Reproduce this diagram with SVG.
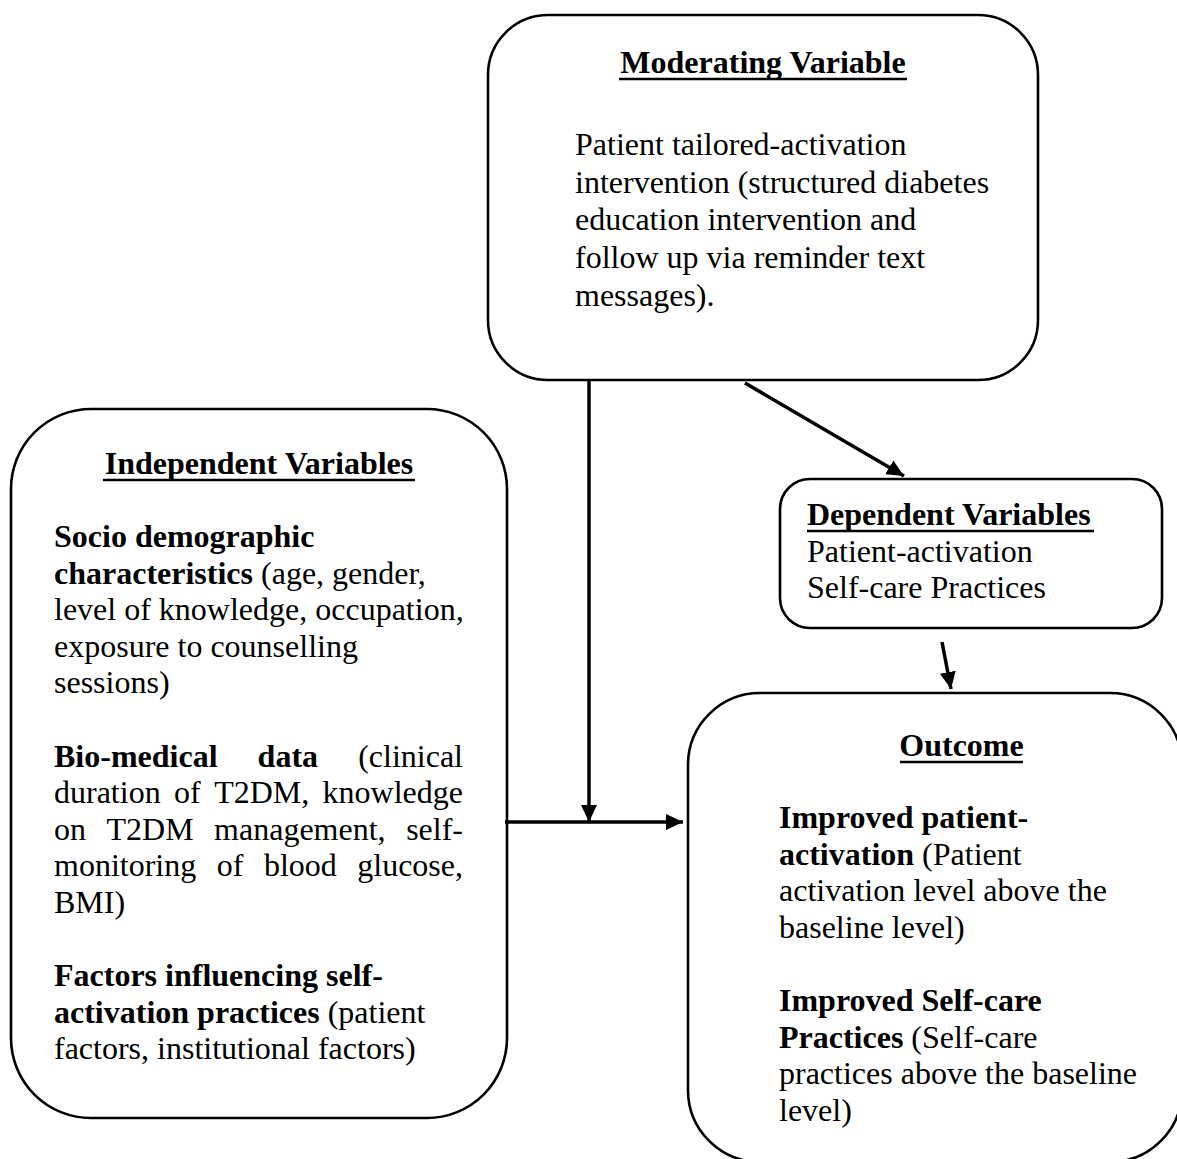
<svg xmlns="http://www.w3.org/2000/svg" width="1177" height="1159" viewBox="0 0 1177 1159">
  <style>
    .box { fill: #fff; stroke: #000; stroke-width: 2.6; }
    .t { font-family: "Liberation Serif", "Times New Roman", serif; font-size: 32px; fill: #000; }
    .b { font-weight: bold; }
    .u { stroke: #000; stroke-width: 2.6; }
    .conn { stroke: #000; stroke-width: 3.5; fill: none; }
  </style>
  <defs>
    <marker id="arrow" markerUnits="userSpaceOnUse" markerWidth="18" markerHeight="18" viewBox="0 0 18 18" refX="17" refY="9" orient="auto">
      <path d="M0,1 L17,9 L0,17 Z" fill="#000"/>
    </marker>
  </defs>

  <rect width="1177" height="1159" fill="#fff"/>

  <!-- Moderating variable -->
  <g id="moderating">
    <rect class="box" x="488" y="15" width="550" height="365" rx="60" ry="60"/>
    <text class="t b" x="763" y="73" text-anchor="middle">Moderating Variable</text>
    <line class="u" x1="619" y1="79" x2="907" y2="79"/>
    <text class="t" x="575" y="155">Patient tailored-activation</text>
    <text class="t" x="575" y="192.7">intervention (structured diabetes</text>
    <text class="t" x="575" y="230.4">education intervention and</text>
    <text class="t" x="575" y="268.1">follow up via reminder text</text>
    <text class="t" x="575" y="305.8">messages).</text>
  </g>

  <!-- Independent variables -->
  <g id="independent">
    <rect class="box" x="11" y="409" width="496" height="709" rx="80" ry="80"/>
    <text class="t b" x="259" y="474" text-anchor="middle">Independent Variables</text>
    <line class="u" x1="103" y1="480" x2="415" y2="480"/>
    <text class="t b" x="54" y="547">Socio demographic</text>
    <text class="t" x="54" y="583.6"><tspan class="b">characteristics</tspan> (age, gender,</text>
    <text class="t" x="54" y="620.2">level of knowledge, occupation,</text>
    <text class="t" x="54" y="656.8">exposure to counselling</text>
    <text class="t" x="54" y="693.4">sessions)</text>

    <text class="t" y="766.6"><tspan class="b" x="54">Bio-medical</tspan><tspan class="b" x="257.6">data</tspan><tspan x="463" text-anchor="end">(clinical</tspan></text>
    <text class="t" y="803.2"><tspan x="54">duration</tspan><tspan x="174.1">of</tspan><tspan x="214.2">T2DM,</tspan><tspan x="463" text-anchor="end">knowledge</tspan></text>
    <text class="t" y="839.8"><tspan x="54">on</tspan><tspan x="106.5">T2DM</tspan><tspan x="214.1">management,</tspan><tspan x="463" text-anchor="end">self-</tspan></text>
    <text class="t" y="876.4"><tspan x="54">monitoring</tspan><tspan x="216.7">of</tspan><tspan x="263.9">blood</tspan><tspan x="463" text-anchor="end">glucose,</tspan></text>
    <text class="t" x="54" y="913">BMI)</text>

    <text class="t b" x="54" y="986.2">Factors influencing self-</text>
    <text class="t" x="54" y="1022.8"><tspan class="b">activation practices</tspan> (patient</text>
    <text class="t" x="54" y="1059.4">factors, institutional factors)</text>
  </g>

  <!-- Dependent variables -->
  <g id="dependent">
    <rect class="box" x="780" y="479" width="382" height="149" rx="30" ry="30"/>
    <text class="t b" x="807" y="525">Dependent Variables</text>
    <line class="u" x1="807" y1="531" x2="1094" y2="531"/>
    <text class="t" x="807" y="561.6">Patient-activation</text>
    <text class="t" x="807" y="598.2">Self-care Practices</text>
  </g>

  <!-- Outcome -->
  <g id="outcome">
    <rect class="box" x="688" y="693" width="494" height="469" rx="72" ry="72"/>
    <text class="t b" x="961.5" y="756" text-anchor="middle">Outcome</text>
    <line class="u" x1="900" y1="762" x2="1023" y2="762"/>
    <text class="t b" x="779" y="828">Improved patient-</text>
    <text class="t" x="779" y="864.6"><tspan class="b">activation</tspan> (Patient</text>
    <text class="t" x="779" y="901.2">activation level above the</text>
    <text class="t" x="779" y="937.8">baseline level)</text>
    <text class="t b" x="779" y="1011">Improved Self-care</text>
    <text class="t" x="779" y="1047.6"><tspan class="b">Practices</tspan> (Self-care</text>
    <text class="t" x="779" y="1084.2">practices above the baseline</text>
    <text class="t" x="779" y="1120.8">level)</text>
  </g>

  <!-- Connectors -->
  <g id="connectors">
    <line class="conn" x1="589" y1="380" x2="589" y2="822" marker-end="url(#arrow)"/>
    <line class="conn" x1="505" y1="822" x2="683" y2="822" marker-end="url(#arrow)"/>
    <line class="conn" x1="745" y1="383" x2="904" y2="476" marker-end="url(#arrow)"/>
    <line class="conn" x1="942" y1="642" x2="951" y2="689" marker-end="url(#arrow)"/>
  </g>
</svg>
